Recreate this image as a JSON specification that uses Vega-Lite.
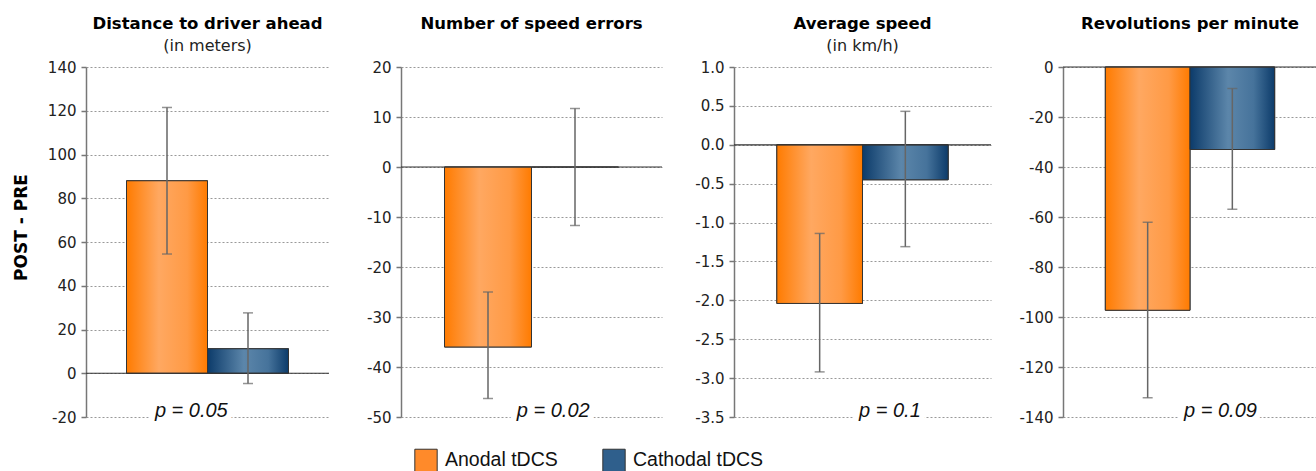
{
  "$schema": "https://vega.github.io/schema/vega-lite/v6.json",
  "autosize": {"type": "pad"},
  "padding": {"left": 12, "top": 15, "right": 0, "bottom": 0},
  "background": "white",
  "bounds": "flush",
  "spacing": 72,
  "config": {
    "locale": {"number": {"decimal": ".", "thousands": ",", "grouping": [3], "currency": ["$", ""], "minus": "-"}},
    "view": {"stroke": null},
    "title": {"font": "DejaVu Sans", "fontSize": 16.5, "fontWeight": "bold", "color": "#000", "subtitleFont": "DejaVu Sans", "subtitleFontSize": 16, "subtitleColor": "#222", "subtitlePadding": 6, "offset": 6, "anchor": "middle"},
    "axisY": {"domainColor": "#777", "domainWidth": 1.5, "tickColor": "#777", "tickSize": 5, "tickWidth": 1.5, "labelFont": "DejaVu Sans", "labelFontSize": 15, "labelColor": "#222", "labelPadding": 5, "labelOverlap": false, "gridColor": "#999", "gridDash": [2, 2], "gridWidth": 1, "minExtent": 40, "maxExtent": 40, "titleFont": "DejaVu Sans", "titleFontSize": 17, "titleFontWeight": "bold", "titleColor": "#000", "titlePadding": 16},
    "legend": {"orient": "none", "direction": "horizontal", "legendX": 328, "legendY": 381, "symbolType": "square", "symbolSize": 500, "symbolStrokeColor": "#333", "symbolStrokeWidth": 1, "symbolOpacity": 1, "labelFont": "Liberation Sans", "labelFontSize": 19.5, "labelColor": "#111", "labelOffset": 7, "columnPadding": 42, "padding": 0}
  },
  "datasets": {
    "bars": [
      {"measure": "dist", "grp": "Anodal tDCS", "mean": 88, "lo": 54.5, "hi": 121.5},
      {"measure": "dist", "grp": "Cathodal tDCS", "mean": 11.2, "lo": -4.7, "hi": 27.6},
      {"measure": "err", "grp": "Anodal tDCS", "mean": -36, "lo": -46.3, "hi": -25},
      {"measure": "err", "grp": "Cathodal tDCS", "mean": 0, "lo": -11.7, "hi": 11.7},
      {"measure": "speed", "grp": "Anodal tDCS", "mean": -2.04, "lo": -2.92, "hi": -1.14},
      {"measure": "speed", "grp": "Cathodal tDCS", "mean": -0.45, "lo": -1.31, "hi": 0.43},
      {"measure": "rpm", "grp": "Anodal tDCS", "mean": -97.3, "lo": -132.3, "hi": -62.1},
      {"measure": "rpm", "grp": "Cathodal tDCS", "mean": -33, "lo": -56.9, "hi": -8.6}
    ],
    "pvals": [
      {"measure": "dist", "grp": "Anodal tDCS", "label": "p = 0.05"},
      {"measure": "err", "grp": "Cathodal tDCS", "label": "p = 0.02"},
      {"measure": "speed", "grp": "Cathodal tDCS", "label": "p = 0.1"},
      {"measure": "rpm", "grp": "Cathodal tDCS", "label": "p = 0.09"}
    ]
  },
  "hconcat": [
    {
      "width": 243, "height": 350,
      "title": {"text": "Distance to driver ahead", "subtitle": "(in meters)"},
      "layer": [
        {"data": {"name": "bars"}, "transform": [{"filter": "datum.measure === 'dist'"}],
         "mark": {"type": "bar", "stroke": "#333", "strokeWidth": 1},
         "encoding": {
           "x": {"field": "grp", "type": "nominal", "scale": {"domain": ["Anodal tDCS", "Cathodal tDCS"], "paddingInner": 0, "paddingOuter": 0.5}, "axis": null},
           "y": {"field": "mean", "type": "quantitative", "title": "POST - PRE", "scale": {"domain": [-20, 140], "nice": false}, "axis": {"values": [-20, 0, 20, 40, 60, 80, 100, 120, 140], "tickCount": 20, "labelOverlap": false, "titleY": 160}},
           "y2": {"datum": 0},
           "color": {"field": "grp", "type": "nominal", "scale": {"domain": ["Anodal tDCS", "Cathodal tDCS"], "range": ["#FF8A2A", "#2F5F8C"]}, "legend": {"title": null}}
         }},
        {"data": {"name": "bars"}, "transform": [{"filter": "datum.measure === 'dist' && datum.grp === 'Anodal tDCS'"}],
         "mark": {"type": "bar", "stroke": "#333", "strokeWidth": 1, "fill": {"gradient": "linear", "x1": 0, "x2": 1, "y1": 0, "y2": 0, "stops": [{"offset": 0, "color": "#FF7B00"}, {"offset": 0.4, "color": "#FFA861"}, {"offset": 0.75, "color": "#FF9A45"}, {"offset": 1, "color": "#FF7B00"}]}},
         "encoding": {
           "x": {"field": "grp", "type": "nominal", "axis": null},
           "y": {"field": "mean", "type": "quantitative", "title": "POST - PRE"},
           "y2": {"datum": 0}
         }},
        {"data": {"name": "bars"}, "transform": [{"filter": "datum.measure === 'dist' && datum.grp === 'Cathodal tDCS'"}],
         "mark": {"type": "bar", "stroke": "#333", "strokeWidth": 1, "fill": {"gradient": "linear", "x1": 0, "x2": 1, "y1": 0, "y2": 0, "stops": [{"offset": 0, "color": "#0C3B6A"}, {"offset": 0.45, "color": "#5C86AA"}, {"offset": 0.75, "color": "#46739B"}, {"offset": 1, "color": "#0C3B6A"}]}},
         "encoding": {
           "x": {"field": "grp", "type": "nominal", "axis": null},
           "y": {"field": "mean", "type": "quantitative", "title": "POST - PRE"},
           "y2": {"datum": 0}
         }},
        {"data": {"values": [{}]}, "mark": {"type": "rule", "color": "#333", "strokeWidth": 1.2},
         "encoding": {"y": {"datum": 0, "title": "POST - PRE"}}},
        {"data": {"name": "bars"}, "transform": [{"filter": "datum.measure === 'dist'"}],
         "mark": {"type": "errorbar", "ticks": {"size": 10, "color": "#666", "thickness": 1.5}, "rule": {"color": "#666", "strokeWidth": 1.5}},
         "encoding": {
           "x": {"field": "grp", "type": "nominal", "axis": null},
           "y": {"field": "lo", "type": "quantitative", "title": "POST - PRE"},
           "y2": {"field": "hi"}
         }},
        {"data": {"name": "pvals"}, "transform": [{"filter": "datum.measure === 'dist'"}],
         "mark": {"type": "text", "font": "Liberation Sans", "fontSize": 20, "fontStyle": "italic", "fill": "white", "stroke": "white", "strokeWidth": 12, "strokeJoin": "round", "align": "center", "baseline": "alphabetic"},
         "encoding": {"x": {"field": "grp", "type": "nominal", "bandPosition": 0.8, "axis": null}, "y": {"datum": -20, "title": "POST - PRE"}, "text": {"field": "label"}}},
        {"data": {"name": "pvals"}, "transform": [{"filter": "datum.measure === 'dist'"}],
         "mark": {"type": "text", "font": "Liberation Sans", "fontSize": 20, "fontStyle": "italic", "color": "#111", "align": "center", "baseline": "alphabetic"},
         "encoding": {"x": {"field": "grp", "type": "nominal", "bandPosition": 0.8, "axis": null}, "y": {"datum": -20, "title": "POST - PRE"}, "text": {"field": "label"}}}
      ]
    },
    {
      "width": 261, "height": 350,
      "title": {"text": "Number of speed errors", "subtitle": " "},
      "layer": [
        {"data": {"name": "bars"}, "transform": [{"filter": "datum.measure === 'err'"}],
         "mark": {"type": "bar", "stroke": "#333", "strokeWidth": 1},
         "encoding": {
           "x": {"field": "grp", "type": "nominal", "scale": {"domain": ["Anodal tDCS", "Cathodal tDCS"], "paddingInner": 0, "paddingOuter": 0.5}, "axis": null},
           "y": {"field": "mean", "type": "quantitative", "title": null, "scale": {"domain": [-50, 20], "nice": false}, "axis": {"values": [-50, -40, -30, -20, -10, 0, 10, 20], "tickCount": 20, "labelOverlap": false}},
           "y2": {"datum": 0},
           "color": {"field": "grp", "type": "nominal", "scale": {"domain": ["Anodal tDCS", "Cathodal tDCS"], "range": ["#FF8A2A", "#2F5F8C"]}, "legend": {"title": null}}
         }},
        {"data": {"name": "bars"}, "transform": [{"filter": "datum.measure === 'err' && datum.grp === 'Anodal tDCS'"}],
         "mark": {"type": "bar", "stroke": "#333", "strokeWidth": 1, "fill": {"gradient": "linear", "x1": 0, "x2": 1, "y1": 0, "y2": 0, "stops": [{"offset": 0, "color": "#FF7B00"}, {"offset": 0.4, "color": "#FFA861"}, {"offset": 0.75, "color": "#FF9A45"}, {"offset": 1, "color": "#FF7B00"}]}},
         "encoding": {
           "x": {"field": "grp", "type": "nominal", "axis": null},
           "y": {"field": "mean", "type": "quantitative", "title": null},
           "y2": {"datum": 0}
         }},
        {"data": {"values": [{}]}, "mark": {"type": "rule", "color": "#333", "strokeWidth": 1.2},
         "encoding": {"y": {"datum": 0, "title": null}}},
        {"data": {"name": "bars"}, "transform": [{"filter": "datum.measure === 'err'"}],
         "mark": {"type": "errorbar", "ticks": {"size": 10, "color": "#666", "thickness": 1.5}, "rule": {"color": "#666", "strokeWidth": 1.5}},
         "encoding": {
           "x": {"field": "grp", "type": "nominal", "axis": null},
           "y": {"field": "lo", "type": "quantitative", "title": null},
           "y2": {"field": "hi"}
         }},
        {"data": {"name": "pvals"}, "transform": [{"filter": "datum.measure === 'err'"}],
         "mark": {"type": "text", "font": "Liberation Sans", "fontSize": 20, "fontStyle": "italic", "fill": "white", "stroke": "white", "strokeWidth": 12, "strokeJoin": "round", "align": "center", "baseline": "alphabetic"},
         "encoding": {"x": {"field": "grp", "type": "nominal", "bandPosition": 0.25, "axis": null}, "y": {"datum": -50, "title": null}, "text": {"field": "label"}}},
        {"data": {"name": "pvals"}, "transform": [{"filter": "datum.measure === 'err'"}],
         "mark": {"type": "text", "font": "Liberation Sans", "fontSize": 20, "fontStyle": "italic", "color": "#111", "align": "center", "baseline": "alphabetic"},
         "encoding": {"x": {"field": "grp", "type": "nominal", "bandPosition": 0.25, "axis": null}, "y": {"datum": -50, "title": null}, "text": {"field": "label"}}}
      ]
    },
    {
      "width": 257, "height": 350,
      "title": {"text": "Average speed", "subtitle": "(in km/h)"},
      "layer": [
        {"data": {"name": "bars"}, "transform": [{"filter": "datum.measure === 'speed'"}],
         "mark": {"type": "bar", "stroke": "#333", "strokeWidth": 1},
         "encoding": {
           "x": {"field": "grp", "type": "nominal", "scale": {"domain": ["Anodal tDCS", "Cathodal tDCS"], "paddingInner": 0, "paddingOuter": 0.5}, "axis": null},
           "y": {"field": "mean", "type": "quantitative", "title": null, "scale": {"domain": [-3.5, 1], "nice": false}, "axis": {"values": [-3.5, -3, -2.5, -2, -1.5, -1, -0.5, 0, 0.5, 1], "tickCount": 20, "format": ".1f", "labelOverlap": false}},
           "y2": {"datum": 0},
           "color": {"field": "grp", "type": "nominal", "scale": {"domain": ["Anodal tDCS", "Cathodal tDCS"], "range": ["#FF8A2A", "#2F5F8C"]}, "legend": {"title": null}}
         }},
        {"data": {"name": "bars"}, "transform": [{"filter": "datum.measure === 'speed' && datum.grp === 'Anodal tDCS'"}],
         "mark": {"type": "bar", "stroke": "#333", "strokeWidth": 1, "fill": {"gradient": "linear", "x1": 0, "x2": 1, "y1": 0, "y2": 0, "stops": [{"offset": 0, "color": "#FF7B00"}, {"offset": 0.4, "color": "#FFA861"}, {"offset": 0.75, "color": "#FF9A45"}, {"offset": 1, "color": "#FF7B00"}]}},
         "encoding": {
           "x": {"field": "grp", "type": "nominal", "axis": null},
           "y": {"field": "mean", "type": "quantitative", "title": null},
           "y2": {"datum": 0}
         }},
        {"data": {"name": "bars"}, "transform": [{"filter": "datum.measure === 'speed' && datum.grp === 'Cathodal tDCS'"}],
         "mark": {"type": "bar", "stroke": "#333", "strokeWidth": 1, "fill": {"gradient": "linear", "x1": 0, "x2": 1, "y1": 0, "y2": 0, "stops": [{"offset": 0, "color": "#0C3B6A"}, {"offset": 0.45, "color": "#5C86AA"}, {"offset": 0.75, "color": "#46739B"}, {"offset": 1, "color": "#0C3B6A"}]}},
         "encoding": {
           "x": {"field": "grp", "type": "nominal", "axis": null},
           "y": {"field": "mean", "type": "quantitative", "title": null},
           "y2": {"datum": 0}
         }},
        {"data": {"values": [{}]}, "mark": {"type": "rule", "color": "#333", "strokeWidth": 1.2},
         "encoding": {"y": {"datum": 0, "title": null}}},
        {"data": {"name": "bars"}, "transform": [{"filter": "datum.measure === 'speed'"}],
         "mark": {"type": "errorbar", "ticks": {"size": 10, "color": "#666", "thickness": 1.5}, "rule": {"color": "#666", "strokeWidth": 1.5}},
         "encoding": {
           "x": {"field": "grp", "type": "nominal", "axis": null},
           "y": {"field": "lo", "type": "quantitative", "title": null},
           "y2": {"field": "hi"}
         }},
        {"data": {"name": "pvals"}, "transform": [{"filter": "datum.measure === 'speed'"}],
         "mark": {"type": "text", "font": "Liberation Sans", "fontSize": 20, "fontStyle": "italic", "fill": "white", "stroke": "white", "strokeWidth": 12, "strokeJoin": "round", "align": "center", "baseline": "alphabetic"},
         "encoding": {"x": {"field": "grp", "type": "nominal", "bandPosition": 0.32, "axis": null}, "y": {"datum": -3.5, "title": null}, "text": {"field": "label"}}},
        {"data": {"name": "pvals"}, "transform": [{"filter": "datum.measure === 'speed'"}],
         "mark": {"type": "text", "font": "Liberation Sans", "fontSize": 20, "fontStyle": "italic", "color": "#111", "align": "center", "baseline": "alphabetic"},
         "encoding": {"x": {"field": "grp", "type": "nominal", "bandPosition": 0.32, "axis": null}, "y": {"datum": -3.5, "title": null}, "text": {"field": "label"}}}
      ]
    },
    {
      "width": 254, "height": 350,
      "title": {"text": "Revolutions per minute", "subtitle": " "},
      "layer": [
        {"data": {"name": "bars"}, "transform": [{"filter": "datum.measure === 'rpm'"}],
         "mark": {"type": "bar", "stroke": "#333", "strokeWidth": 1},
         "encoding": {
           "x": {"field": "grp", "type": "nominal", "scale": {"domain": ["Anodal tDCS", "Cathodal tDCS"], "paddingInner": 0, "paddingOuter": 0.5}, "axis": null},
           "y": {"field": "mean", "type": "quantitative", "title": null, "scale": {"domain": [-140, 0], "nice": false}, "axis": {"values": [-140, -120, -100, -80, -60, -40, -20, 0], "tickCount": 20, "labelOverlap": false}},
           "y2": {"datum": 0},
           "color": {"field": "grp", "type": "nominal", "scale": {"domain": ["Anodal tDCS", "Cathodal tDCS"], "range": ["#FF8A2A", "#2F5F8C"]}, "legend": {"title": null}}
         }},
        {"data": {"name": "bars"}, "transform": [{"filter": "datum.measure === 'rpm' && datum.grp === 'Anodal tDCS'"}],
         "mark": {"type": "bar", "stroke": "#333", "strokeWidth": 1, "fill": {"gradient": "linear", "x1": 0, "x2": 1, "y1": 0, "y2": 0, "stops": [{"offset": 0, "color": "#FF7B00"}, {"offset": 0.4, "color": "#FFA861"}, {"offset": 0.75, "color": "#FF9A45"}, {"offset": 1, "color": "#FF7B00"}]}},
         "encoding": {
           "x": {"field": "grp", "type": "nominal", "axis": null},
           "y": {"field": "mean", "type": "quantitative", "title": null},
           "y2": {"datum": 0}
         }},
        {"data": {"name": "bars"}, "transform": [{"filter": "datum.measure === 'rpm' && datum.grp === 'Cathodal tDCS'"}],
         "mark": {"type": "bar", "stroke": "#333", "strokeWidth": 1, "fill": {"gradient": "linear", "x1": 0, "x2": 1, "y1": 0, "y2": 0, "stops": [{"offset": 0, "color": "#0C3B6A"}, {"offset": 0.45, "color": "#5C86AA"}, {"offset": 0.75, "color": "#46739B"}, {"offset": 1, "color": "#0C3B6A"}]}},
         "encoding": {
           "x": {"field": "grp", "type": "nominal", "axis": null},
           "y": {"field": "mean", "type": "quantitative", "title": null},
           "y2": {"datum": 0}
         }},
        {"data": {"values": [{}]}, "mark": {"type": "rule", "color": "#333", "strokeWidth": 1.2},
         "encoding": {"y": {"datum": 0, "title": null}}},
        {"data": {"name": "bars"}, "transform": [{"filter": "datum.measure === 'rpm'"}],
         "mark": {"type": "errorbar", "ticks": {"size": 10, "color": "#666", "thickness": 1.5}, "rule": {"color": "#666", "strokeWidth": 1.5}},
         "encoding": {
           "x": {"field": "grp", "type": "nominal", "axis": null},
           "y": {"field": "lo", "type": "quantitative", "title": null},
           "y2": {"field": "hi"}
         }},
        {"data": {"name": "pvals"}, "transform": [{"filter": "datum.measure === 'rpm'"}],
         "mark": {"type": "text", "font": "Liberation Sans", "fontSize": 20, "fontStyle": "italic", "fill": "white", "stroke": "white", "strokeWidth": 12, "strokeJoin": "round", "align": "center", "baseline": "alphabetic"},
         "encoding": {"x": {"field": "grp", "type": "nominal", "bandPosition": 0.36, "axis": null}, "y": {"datum": -140, "title": null}, "text": {"field": "label"}}},
        {"data": {"name": "pvals"}, "transform": [{"filter": "datum.measure === 'rpm'"}],
         "mark": {"type": "text", "font": "Liberation Sans", "fontSize": 20, "fontStyle": "italic", "color": "#111", "align": "center", "baseline": "alphabetic"},
         "encoding": {"x": {"field": "grp", "type": "nominal", "bandPosition": 0.36, "axis": null}, "y": {"datum": -140, "title": null}, "text": {"field": "label"}}}
      ]
    }
  ]
}
